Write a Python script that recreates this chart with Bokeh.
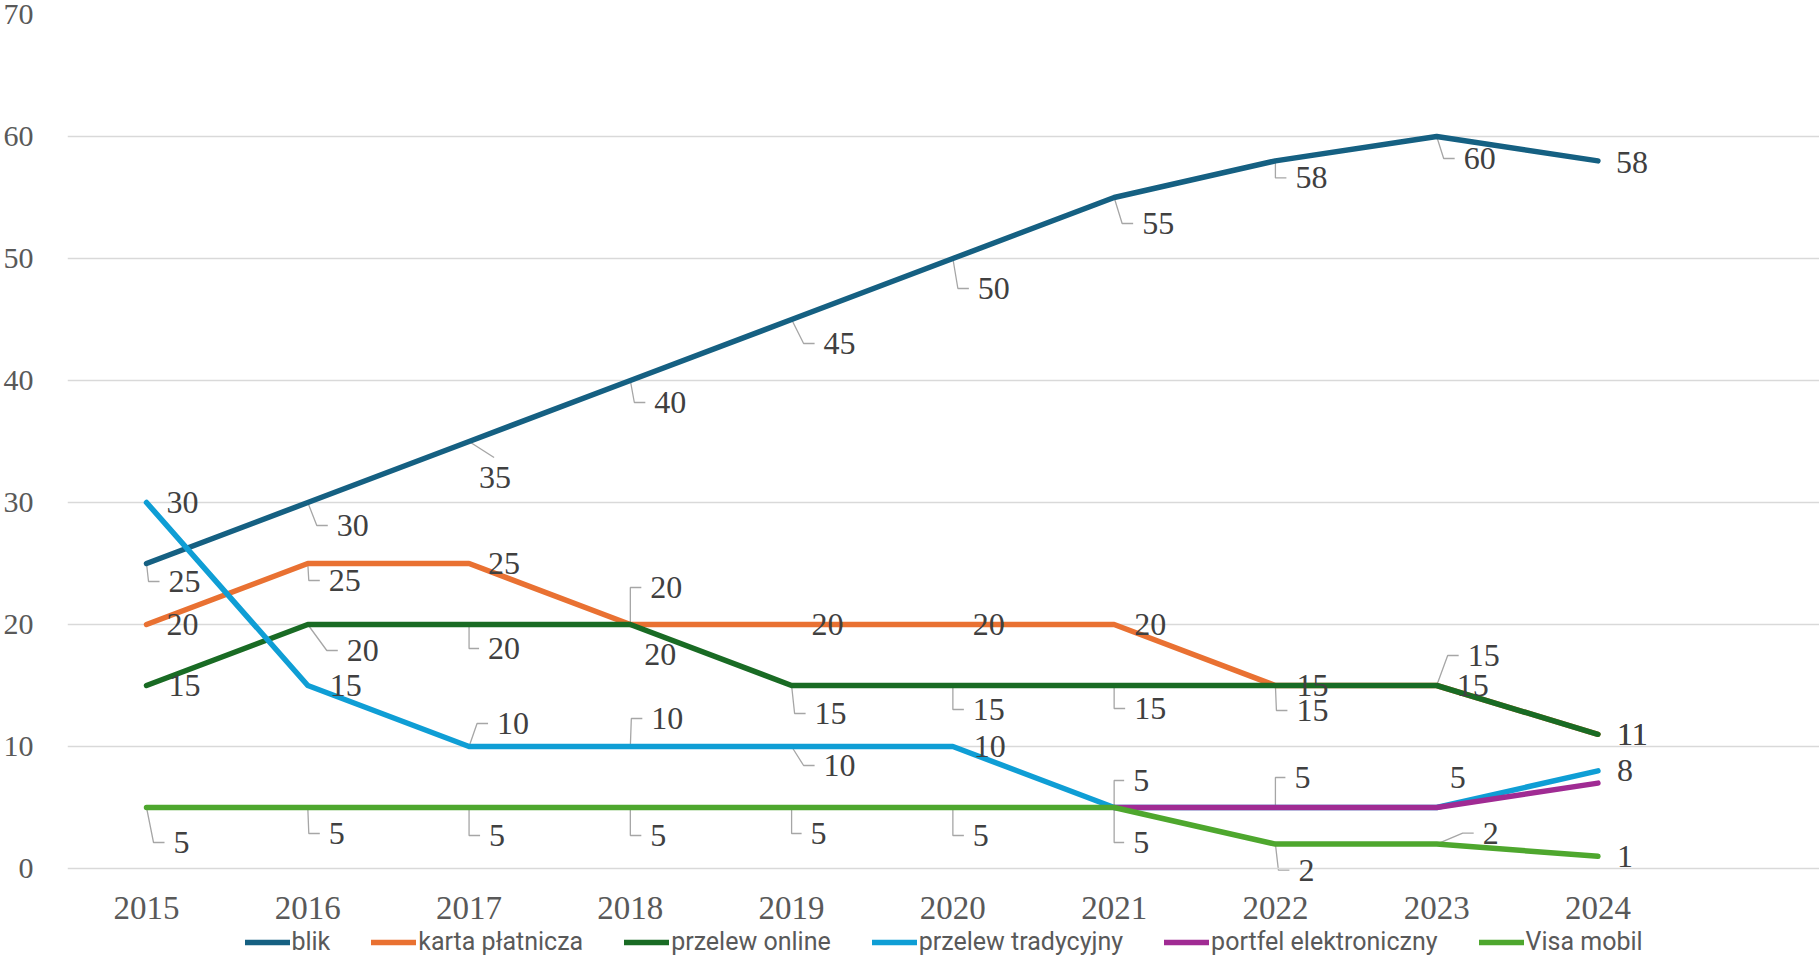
from bokeh.plotting import figure
from bokeh.models import Range1d, FixedTicker, Legend, LegendItem, ColumnDataSource
from bokeh.embed import file_html
from bokeh.resources import INLINE
from bokeh.core.properties import value

# ---------------- data ----------------
years = [2015, 2016, 2017, 2018, 2019, 2020, 2021, 2022, 2023, 2024]
year_labels = ["2015", "2016", "2017", "2018", "2019", "2020", "2021", "2022", "2023", "2024"]
y_ticks = [0, 10, 20, 30, 40, 50, 60, 70]

blik = [25, 30, 35, 40, 45, 50, 55, 58, 60, 58]
karta_platnicza = [20, 25, 25, 20, 20, 20, 20, 15, 15, 11]
przelew_online = [15, 20, 20, 20, 15, 15, 15, 15, 15, 11]
przelew_tradycyjny = [30, 15, 10, 10, 10, 10, 5, 5, 5, 8]
portfel_elektroniczny = [None, None, None, None, None, None, 5, 5, 5, 7]
visa_mobil = [5, 5, 5, 5, 5, 5, 5, 2, 2, 1]

series_names = ["blik", "karta płatnicza", "przelew online",
                "przelew tradycyjny", "portfel elektroniczny", "Visa mobil"]
series_values = [blik, karta_platnicza, przelew_online,
                 przelew_tradycyjny, portfel_elektroniczny, visa_mobil]
colors = ["#156082", "#E97132", "#196B24", "#0F9ED5", "#A02B93", "#4EA72E"]

# data-label placement (style): (dx, dy, leader) in screen pixels, text left edge / centre
N = None
label_style = [
    [(22, 18, 1), (29, 23, 1), (10, 36, 1), (24, 22, 1), (32, 24, 1), (25, 30, 1), (28, 26, 1), (20, 17, 1), (27, 22, 1), (18, 2, 0)],
    [(20, 0, 0), (21, 17, 1), (19, 0, 0), (20, -37, 1), (20, 0, 0), (20, 0, 0), (20, 0, 0), (21, 0, 0), (31, -30, 1), (19, 0, 0)],
    [(22, 0, 0), (39, 26, 1), (19, 24, 1), (14, 30, 0), (23, 28, 1), (20, 24, 1), (20, 23, 1), (21, 25, 1), (20, 0, 0), (19, 0, 0)],
    [(20, 0, 0), (22, 0, 0), (28, -23, 1), (21, -28, 1), (32, 19, 1), (21, 0, 0), (19, -27, 1), (19, -30, 1), (13, -30, 0), (19, 0, 0)],
    [N, N, N, N, N, N, N, N, N, N],
    [(27, 35, 1), (21, 26, 1), (20, 28, 1), (20, 28, 1), (19, 26, 1), (20, 28, 1), (19, 35, 1), (23, 26, 1), (46, -11, 1), (19, 0, 0)],
]

# ---------------- geometry ----------------
PX_X = 161.27
PX_Y = 854 / 70.0
FRAME_W = 1753
FRAME_H = 942
X0 = 2014.51
X1 = X0 + FRAME_W / PX_X
Y1 = 70
Y0 = Y1 - FRAME_H / PX_Y
YEAR_LABEL_Y = -39 / PX_Y

p = figure(frame_width=FRAME_W, frame_height=FRAME_H,
           x_range=Range1d(X0, X1), y_range=Range1d(Y0, Y1),
           output_backend="svg", toolbar_location=None,
           min_border_left=58, min_border_right=0, min_border_top=14, min_border_bottom=0)
p.outline_line_color = None
p.background_fill_color = "white"
p.border_fill_color = "white"

p.xgrid.grid_line_color = None
p.ygrid.grid_line_color = "#d9d9d9"
p.ygrid.grid_line_width = 1.5
p.yaxis.ticker = FixedTicker(ticks=y_ticks)
p.xaxis.visible = False
p.yaxis.axis_line_color = None
p.yaxis.major_tick_line_color = None
p.yaxis.minor_tick_line_color = None
p.yaxis.major_label_text_font = "Liberation Serif"
p.yaxis.major_label_text_color = "#595959"
p.yaxis.major_label_text_font_size = "30px"
p.yaxis.major_label_standoff = 28

# category (year) labels along the bottom
p.text(x=years, y=[YEAR_LABEL_Y] * len(years), text=year_labels,
       text_font=value("Liberation Serif"), text_font_size="33px", text_color="#595959",
       text_align="center", text_baseline="middle")

renderers = []
for name, vals, col in zip(series_names, series_values, colors):
    ys = [float("nan") if v is None else v for v in vals]
    r = p.line(years, ys, line_color=col, line_width=5.5, line_join="round", line_cap="round")
    renderers.append(r)

# labels & leaders
lx, ly, lt = [], [], []
lead_xs, lead_ys = [], []
for vals, styles in zip(series_values, label_style):
    for yr, v, st in zip(years, vals, styles):
        if v is None or st is None:
            continue
        dx, dy, lead = st
        lx.append(yr + dx / PX_X)
        ly.append(v - dy / PX_Y)
        lt.append(str(v))
        if lead:
            cy = v - dy / PX_Y
            if dx >= 16:
                ex = max(0.0, dx - 20)
                ee = dx - 9
                lead_xs.append([yr, yr + ex / PX_X, yr + ee / PX_X])
                lead_ys.append([v, cy, cy])
            else:
                sgn = 1 if dy > 0 else -1
                lead_xs.append([yr, yr + (dx + 15) / PX_X])
                lead_ys.append([v, v - (dy - sgn * 20) / PX_Y])

p.multi_line(lead_xs, lead_ys, line_color="#a6a6a6", line_width=1.3, level="underlay")

src = ColumnDataSource(dict(x=lx, y=ly, t=lt))
p.text(x="x", y="y", text="t", source=src, text_font=value("Liberation Serif"),
       text_font_size="32px", text_color="#404040", text_align="left", text_baseline="middle")

legend = Legend(items=[LegendItem(label=n, renderers=[r]) for n, r in zip(series_names, renderers)],
                orientation="horizontal", location="bottom_center")
legend.label_text_font = "Roboto"
legend.label_text_font_size = "25px"
legend.label_text_color = "#595959"
legend.glyph_width = 45
legend.glyph_height = 14
legend.label_height = 14
legend.label_standoff = 2
legend.spacing = 41
legend.padding = 0
legend.margin = 0
legend.border_line_color = None
legend.background_fill_alpha = 0
p.add_layout(legend)

open("out.html", "w").write(file_html(p, INLINE))
